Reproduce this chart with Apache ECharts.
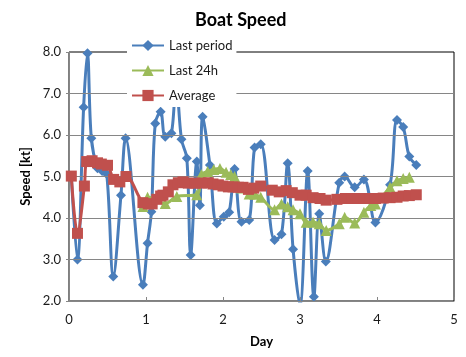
<!DOCTYPE html>
<html>
<head>
<meta charset="utf-8">
<script src="https://cdn.jsdelivr.net/npm/echarts@6/dist/echarts.min.js"></script>
<style>html,body{margin:0;padding:0;background:#fff}#c{width:466px;height:357px}</style>
</head>
<body>
<div id="c"></div>
<script>
// Last period (time in days, speed in kt)
var lastPeriodT = [0.03,0.11,0.19,0.24,0.29,0.37,0.43,0.49,0.575,0.675,0.735,0.96,1.02,1.07,1.12,1.19,1.25,1.33,1.39,1.46,1.53,1.58,1.66,1.70,1.735,1.83,1.92,2.01,2.08,2.15,2.24,2.34,2.41,2.49,2.67,2.76,2.84,2.91,3.0,3.10,3.18,3.25,3.335,3.51,3.58,3.71,3.83,3.98,4.17,4.26,4.34,4.42,4.51];
var lastPeriodV = [5.01,3.00,6.67,7.97,5.92,5.20,5.13,5.06,2.59,4.55,5.92,2.39,3.39,4.15,6.28,6.56,5.96,6.04,7.3,5.90,5.44,3.11,5.36,4.31,6.44,5.28,3.87,4.03,4.14,5.18,3.91,3.95,5.70,5.78,3.47,3.61,5.32,3.25,1.9,5.13,2.10,4.10,2.95,4.85,5.00,4.74,4.93,3.89,4.80,6.36,6.19,5.48,5.28];
// Last 24h
var last24hT = [0.96,1.02,1.09,1.25,1.40,1.66,1.72,1.80,1.88,1.96,2.04,2.10,2.15,2.24,2.34,2.41,2.49,2.67,2.76,2.84,2.91,3.0,3.08,3.17,3.25,3.34,3.51,3.58,3.71,3.83,3.92,3.98,4.17,4.26,4.34,4.42];
var last24hV = [4.28,4.50,4.47,4.35,4.52,4.56,5.05,5.12,5.17,5.19,5.10,5.05,5.00,4.72,4.58,4.57,4.50,4.20,4.34,4.27,4.20,4.10,3.90,3.90,3.86,3.70,3.86,4.02,3.88,4.14,4.30,4.34,4.74,4.90,4.95,4.98];
// Average
var averageT = [0.03,0.11,0.20,0.23,0.30,0.37,0.42,0.50,0.58,0.66,0.74,0.96,1.03,1.08,1.14,1.19,1.22,1.29,1.35,1.42,1.48,1.55,1.635,1.72,1.81,1.87,1.94,2.0,2.07,2.13,2.20,2.26,2.33,2.40,2.49,2.64,2.73,2.82,2.90,3.0,3.08,3.17,3.26,3.34,3.48,3.59,3.67,3.75,3.83,3.91,3.98,4.08,4.17,4.26,4.34,4.42,4.51];
var averageV = [5.01,3.63,4.77,5.36,5.38,5.33,5.30,5.27,4.93,4.87,5.00,4.37,4.34,4.34,4.45,4.53,4.55,4.63,4.80,4.85,4.87,4.84,4.84,4.84,4.85,4.82,4.80,4.77,4.75,4.75,4.74,4.74,4.69,4.72,4.77,4.67,4.63,4.66,4.61,4.55,4.55,4.49,4.47,4.43,4.45,4.47,4.47,4.47,4.47,4.47,4.47,4.48,4.49,4.50,4.53,4.54,4.56];

var xTicks = [0,1,2,3,4,5];
var yTicks = ['2.0','3.0','4.0','5.0','6.0','7.0','8.0'];

function pairs(t, v){ return t.map(function(x,i){ return [x, v[i]]; }); }

var FONT = 'Lato';
var chart = echarts.init(document.getElementById('c'), null, {renderer:'canvas'});
chart.setOption({
  animation: false,
  backgroundColor: '#fff',
  title: {
    text: 'Boat Speed', left: 190, top: 6,
    textStyle: {fontFamily: FONT, fontSize: 18, fontWeight: 'bold', color: '#000'}
  },
  legend: {
    orient: 'vertical', left: 127, top: 34,
    itemWidth: 32, itemHeight: 14, itemGap: 12,
    padding: [5, 4, 5, 4],
    backgroundColor: '#fff',
    textStyle: {fontFamily: FONT, fontSize: 13, color: '#1a1a1a'},
    data: ['Last period', 'Last 24h', 'Average']
  },
  grid: {left: 69, right: 12, top: 52, bottom: 56, show: true, borderColor: '#000', borderWidth: 1, backgroundColor: 'transparent'},
  xAxis: {
    type: 'value', min: xTicks[0], max: xTicks[xTicks.length-1], interval: 1,
    name: 'Day', nameLocation: 'middle', nameGap: 34,
    nameTextStyle: {fontFamily: FONT, fontSize: 13, fontWeight: 'bold', color: '#000'},
    z: 3,
    axisLine: {show: true, lineStyle: {color: '#868686', width: 1}},
    axisTick: {show: true, inside: true, length: 4, lineStyle: {color: '#868686'}},
    axisLabel: {fontFamily: FONT, fontSize: 13, color: '#1a1a1a', margin: 12,
      formatter: function(v){ return String(v); }},
    splitLine: {show: false}
  },
  yAxis: {
    type: 'value', min: 2, max: 8, interval: 1,
    name: 'Speed [kt]', nameLocation: 'middle', nameGap: 37,
    nameTextStyle: {fontFamily: FONT, fontSize: 13, fontWeight: 'bold', color: '#000'},
    z: 3,
    axisLine: {show: true, lineStyle: {color: '#868686', width: 1}},
    axisTick: {show: true, inside: false, length: 3, lineStyle: {color: '#868686'}},
    axisLabel: {fontFamily: FONT, fontSize: 13, color: '#1a1a1a', margin: 8,
      formatter: function(v){ return yTicks[Math.round(v) - 2]; }},
    splitLine: {show: true, showMinLine: false, showMaxLine: false, lineStyle: {color: '#868686', width: 1}}
  },
  series: [
    {
      name: 'Last period', type: 'line', data: pairs(lastPeriodT, lastPeriodV),
      smooth: 0.35, symbol: 'diamond', symbolSize: 10, clip: true, z: 2,
      itemStyle: {color: '#4a7ebb'}, lineStyle: {color: '#4a7ebb', width: 3}
    },
    {
      name: 'Last 24h', type: 'line', data: pairs(last24hT, last24hV),
      smooth: 0.35, symbol: 'triangle', symbolSize: 11, clip: true, z: 3,
      itemStyle: {color: '#9bbb59'}, lineStyle: {color: '#9bbb59', width: 3}
    },
    {
      name: 'Average', type: 'line', data: pairs(averageT, averageV),
      smooth: 0.35, symbol: 'rect', symbolSize: 11, clip: true, z: 3.5,
      itemStyle: {color: '#c0504d'}, lineStyle: {color: '#c0504d', width: 3}
    }
  ]
});
</script>
</body>
</html>
